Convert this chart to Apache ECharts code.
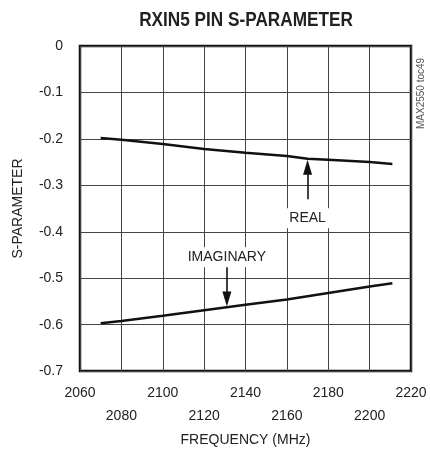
<!DOCTYPE html>
<html>
<head>
<meta charset="utf-8">
<script src="https://cdn.jsdelivr.net/npm/echarts@6/dist/echarts.min.js"></script>
<style>
  html, body { margin: 0; padding: 0; background: #fff; }
  #chart { width: 430px; height: 452px; }
</style>
</head>
<body>
<div id="chart"></div>
<script>
// Frequency points (MHz) and measured S-parameter components
const freq = [2070, 2080, 2100, 2120, 2140, 2160, 2170, 2180, 2200, 2211];
const realPart = [-0.198, -0.202, -0.211, -0.222, -0.230, -0.237, -0.243, -0.245, -0.250, -0.254];
const imagPart = [-0.597, -0.592, -0.581, -0.569, -0.557, -0.546, -0.539, -0.532, -0.518, -0.511];

// Axis ticks
const xTicks = [2060, 2080, 2100, 2120, 2140, 2160, 2180, 2200, 2220];
const yTicks = [0, -0.1, -0.2, -0.3, -0.4, -0.5, -0.6, -0.7];

// Annotation arrows: [label, frequency, tail value, arrowhead centre value, label value]
const realNote = ['REAL', 2170, -0.33, -0.261, -0.371];
const imagNote = ['IMAGINARY', 2131, -0.472, -0.545, -0.455];

const FONT = '"Liberation Sans Narrow", "Arial Narrow", "Liberation Sans", sans-serif';

function pairs(xs, ys) { return xs.map((x, i) => [x, ys[i]]); }

function arrow(note) {
  return {
    type: 'line',
    data: [],
    silent: true,
    markLine: {
      silent: true,
      symbol: ['none', 'triangle'],
      symbolSize: [9, 15],
      lineStyle: { color: '#111', width: 1.6, type: 'solid' },
      label: { show: false },
      data: [[{ coord: [note[1], note[2]] }, { coord: [note[1], note[3]] }]]
    },
    markPoint: {
      silent: true,
      symbol: 'rect',
      symbolSize: 0,
      label: {
        show: true,
        formatter: note[0],
        color: '#222',
        fontFamily: FONT,
        fontSize: 14,
        backgroundColor: '#fff',
        padding: [3, 4, 3, 4],
        position: 'inside'
      },
      data: [{ coord: [note[1], note[4]] }]
    }
  };
}

const chart = echarts.init(document.getElementById('chart'), null, { renderer: 'canvas' });
chart.setOption({
  animation: false,
  backgroundColor: '#fff',
  grid: {
    left: 80, right: 19, top: 46, bottom: 74,
    show: true, borderColor: '#111', borderWidth: 2.5, backgroundColor: 'transparent'
  },
  xAxis: {
    type: 'value',
    min: xTicks[0], max: xTicks[xTicks.length - 1], interval: 20,
    name: 'FREQUENCY (MHz)', nameLocation: 'middle', nameGap: 58,
    nameTextStyle: { fontFamily: FONT, fontSize: 14, color: '#222' },
    axisLine: { show: false },
    axisTick: { show: false },
    axisLabel: {
      margin: 11,
      fontFamily: FONT, fontSize: 14, color: '#222', lineHeight: 23,
      formatter: function (v) {
        const i = xTicks.indexOf(v);
        return i % 2 === 1 ? '\n' + v : String(v);
      }
    },
    splitLine: { show: true, lineStyle: { color: '#444', width: 1 } }
  },
  yAxis: {
    type: 'value',
    min: yTicks[yTicks.length - 1], max: yTicks[0], interval: 0.1,
    name: 'S-PARAMETER', nameLocation: 'middle', nameGap: 55, nameRotate: 90,
    nameTextStyle: { fontFamily: FONT, fontSize: 14, color: '#222' },
    axisLine: { show: false },
    axisTick: { show: false },
    axisLabel: {
      margin: 17,
      fontFamily: FONT, fontSize: 14, color: '#222',
      formatter: function (v) { return Math.abs(v) < 1e-9 ? '0' : v.toFixed(1); }
    },
    splitLine: { show: true, lineStyle: { color: '#444', width: 1 } }
  },
  series: [
    {
      name: 'REAL', type: 'line', data: pairs(freq, realPart),
      symbol: 'none', lineStyle: { color: '#111', width: 2.5 }, z: 5
    },
    {
      name: 'IMAGINARY', type: 'line', data: pairs(freq, imagPart),
      symbol: 'none', lineStyle: { color: '#111', width: 2.5 }, z: 5
    },
    arrow(realNote),
    arrow(imagNote)
  ],
  graphic: [
    {
      // condensed bold heading
      type: 'text',
      x: 246, y: 20,
      scaleX: 0.86,
      style: {
        text: 'RXIN5 PIN S-PARAMETER',
        fontFamily: FONT, fontWeight: 'bold', fontSize: 20, fill: '#222',
        textAlign: 'center', textVerticalAlign: 'middle'
      }
    },
    {
      type: 'text',
      x: 416, y: 129,
      rotation: Math.PI / 2,
      style: { text: 'MAX2550 toc49', fontFamily: FONT, fontSize: 10, fill: '#555' }
    }
  ]
});
</script>
</body>
</html>
